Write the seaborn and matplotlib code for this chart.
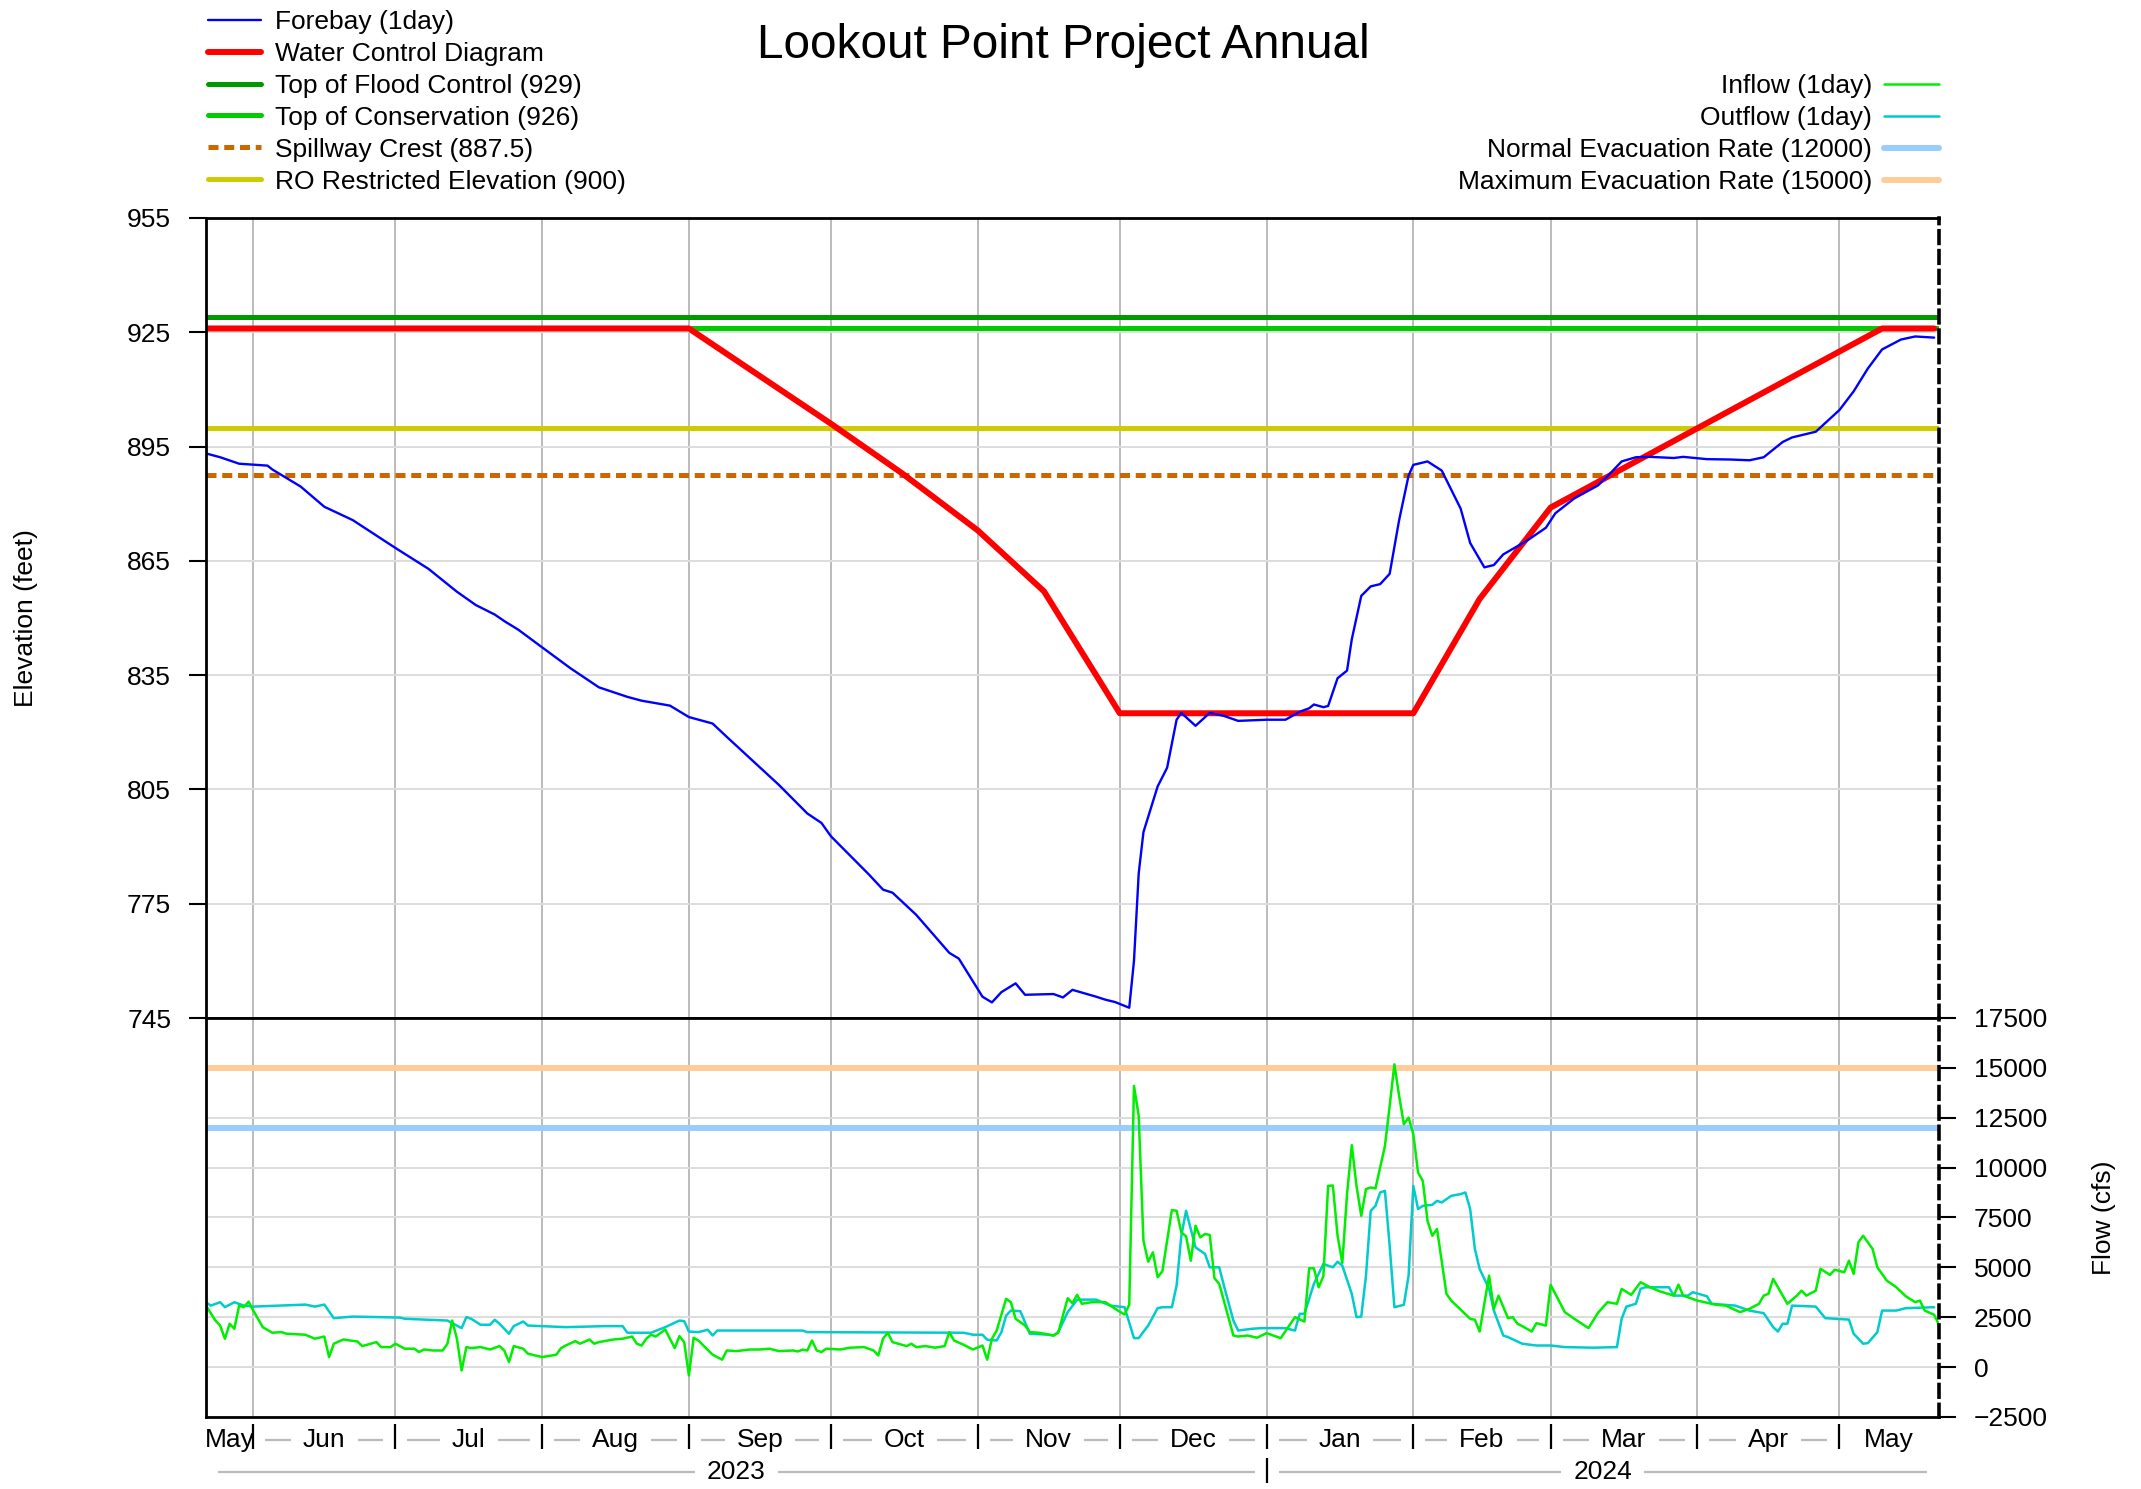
import pandas as pd
import matplotlib
matplotlib.use('Agg')
import matplotlib.pyplot as plt
import seaborn as sns

# period shown
START = pd.Timestamp('2023-05-22')
END = pd.Timestamp('2024-05-22')

# forebay elevation (ft); day = days after START
forebay_day = [0, 3, 7, 13, 14, 20, 25, 31, 40, 47, 53, 57, 61, 63, 66, 71, 77, 83, 89, 92,
               98, 102, 107, 110, 121, 127, 130, 132, 140, 143, 145, 150, 157, 159, 161, 164, 166, 168, 171, 173,
               179, 181, 183, 188, 190, 192, 195, 196, 197, 198, 201, 203, 205, 206, 209, 212, 215, 218, 224, 228,
               231, 233, 234, 236, 237, 239, 241, 242, 244, 246, 248, 250, 252, 254, 255, 258, 261, 265, 267, 270,
               272, 274, 279, 283, 285, 289, 294, 296, 299, 302, 305, 310, 312, 317, 322, 326, 329, 333, 335, 340,
               345, 348, 351, 354, 358, 361, 365]
forebay_ft = [893.2, 892.2, 890.5, 890.0, 889.0, 884.5, 879.2, 875.7, 868.4, 862.9, 856.9, 853.4, 850.9, 849.2, 846.9, 842.3, 836.8, 831.8, 829.3, 828.3,
              827.0, 824.0, 822.3, 818.8, 806.2, 798.7, 796.2, 792.7, 782.7, 778.7, 777.9, 772.1, 762.1, 760.6, 756.6, 750.6, 749.1, 751.8, 754.1, 751.1,
              751.3, 750.4, 752.4, 750.6, 749.8, 749.2, 747.7, 760.0, 783.0, 793.8, 805.8, 810.7, 823.3, 825.1, 821.7, 825.1, 824.3, 823.0, 823.3, 823.3,
              825.4, 826.3, 827.3, 826.6, 826.9, 834.2, 836.2, 844.4, 855.8, 858.3, 858.9, 861.6, 875.7, 887.4, 890.2, 891.1, 888.7, 878.7, 869.7, 863.3,
              863.9, 866.7, 870.3, 873.7, 877.5, 881.4, 884.8, 887.2, 891.1, 892.2, 892.3, 892.0, 892.3, 891.7, 891.6, 891.4, 892.2, 896.2, 897.4, 898.9,
              904.6, 909.5, 915.5, 920.5, 923.1, 923.9, 923.6]

# water control diagram (rule curve)
rule_dates = ['2023-05-22', '2023-09-01', '2023-10-01', '2023-10-16', '2023-11-01', '2023-11-15', '2023-12-01',
              '2024-02-01', '2024-02-15', '2024-03-01', '2024-05-10', '2024-05-21']
rule_ft = [926, 926, 901, 888, 873, 857, 825, 825, 855, 879, 926, 926]

# reference elevations (ft)
top_flood_control = 929
top_conservation = 926
spillway_crest = 887.5
ro_restricted = 900

# inflow (cfs)
inflow_day = [0, 2, 3, 4, 5, 6, 7, 8, 9, 10, 12, 14, 16, 17, 21, 23, 25, 26, 27, 29,
              32, 33, 36, 37, 39, 40, 42, 44, 45, 46, 48, 50, 51, 52, 53, 54, 55, 56, 58, 60,
              62, 63, 64, 65, 67, 68, 71, 74, 75, 76, 78, 79, 81, 82, 83, 86, 88, 90, 91, 92,
              93, 94, 95, 97, 99, 100, 101, 102, 103, 104, 107, 109, 110, 112, 115, 117, 119, 121, 124, 125,
              126, 127, 128, 129, 130, 131, 134, 136, 139, 141, 142, 143, 144, 145, 148, 149, 150, 152, 154, 156,
              157, 158, 160, 162, 164, 165, 166, 167, 169, 170, 171, 173, 174, 176, 179, 180, 182, 183, 184, 185,
              187, 190, 192, 194, 195, 196, 197, 198, 199, 200, 201, 202, 204, 205, 206, 207, 208, 209, 210, 211,
              212, 213, 214, 217, 218, 220, 222, 224, 227, 230, 232, 233, 234, 235, 236, 237, 238, 239, 240, 241,
              242, 243, 244, 245, 246, 247, 249, 250, 251, 252, 253, 254, 255, 256, 257, 258, 259, 260, 262, 263,
              267, 268, 269, 271, 272, 273, 275, 276, 277, 278, 280, 281, 283, 284, 287, 289, 292, 294, 296, 298,
              299, 301, 303, 305, 307, 310, 311, 312, 315, 319, 321, 324, 326, 328, 329, 330, 331, 334, 336, 337,
              338, 340, 341, 343, 344, 346, 347, 348, 349, 350, 352, 353, 355, 357, 359, 361, 362, 363, 365, 366]
inflow_cfs = [3080, 2330, 2080, 1420, 2170, 1920, 3080, 3000, 3280, 2830, 2000, 1720, 1750, 1670, 1620, 1420, 1530, 500, 1170, 1380,
              1280, 1050, 1250, 1000, 1000, 1170, 920, 920, 750, 880, 830, 830, 1170, 2330, 1420, -170, 1000, 950, 1000, 880,
              1050, 830, 250, 1050, 920, 670, 500, 620, 950, 1080, 1300, 1170, 1380, 1170, 1250, 1380, 1420, 1530, 1170, 1080,
              1420, 1620, 1530, 1880, 950, 1550, 1250, -420, 1470, 1330, 620, 370, 830, 800, 880, 880, 920, 800, 830, 780,
              870, 830, 1330, 830, 750, 920, 880, 970, 1000, 830, 580, 1420, 1720, 1250, 1050, 1170, 1000, 1050, 970, 1050,
              1750, 1330, 1120, 880, 1080, 370, 1420, 1830, 3420, 3250, 2420, 2080, 1750, 1720, 1580, 1720, 3450, 3200, 3620, 3170,
              3250, 3250, 2920, 2630, 3120, 14090, 12590, 6330, 5280, 5750, 4500, 4800, 7870, 7830, 6750, 6550, 5330, 7080, 6500, 6670,
              6620, 4450, 4170, 1580, 1530, 1580, 1470, 1700, 1450, 2500, 2280, 4950, 4950, 4000, 4550, 9080, 9100, 6580, 5220, 8670,
              11120, 9080, 7580, 8920, 9000, 8950, 11080, 13080, 15170, 13590, 12170, 12500, 11670, 9750, 9330, 7330, 6580, 6920, 3670, 3330,
              2420, 2370, 1780, 4580, 2920, 3580, 2450, 2500, 2170, 2050, 1780, 2200, 2080, 4120, 2750, 2420, 1950, 2720, 3250, 3170,
              3920, 3620, 4250, 4000, 3800, 3580, 4130, 3580, 3330, 3120, 3080, 2750, 2920, 3170, 3580, 3670, 4420, 3170, 3580, 3830,
              3580, 3830, 4920, 4620, 4880, 4750, 5330, 4670, 6250, 6580, 5920, 5000, 4330, 4000, 3550, 3250, 3330, 2830, 2620, 2120]

# outflow (cfs)
outflow_day = [0, 1, 3, 4, 6, 8, 10, 21, 23, 25, 27, 31, 41, 42, 51, 54, 55, 56, 58, 60,
               61, 62, 64, 65, 67, 68, 76, 84, 88, 89, 94, 97, 100, 101, 102, 104, 106, 107, 108, 117,
               126, 127, 160, 162, 164, 165, 167, 168, 169, 170, 172, 174, 178, 179, 180, 182, 184, 188, 191, 194,
               196, 197, 199, 201, 202, 204, 205, 206, 207, 208, 209, 211, 212, 214, 215, 217, 218, 221, 223, 228,
               230, 231, 232, 234, 236, 237, 238, 239, 240, 242, 243, 244, 245, 246, 247, 248, 249, 250, 251, 253,
               254, 255, 256, 257, 259, 260, 261, 263, 265, 266, 267, 268, 269, 271, 272, 274, 275, 278, 281, 284,
               287, 293, 298, 299, 300, 302, 303, 304, 309, 310, 313, 314, 317, 318, 323, 326, 329, 331, 332, 333,
               334, 335, 340, 342, 347, 348, 350, 351, 353, 354, 357, 359, 365]
outflow_cfs = [3250, 3080, 3250, 3000, 3250, 3080, 3030, 3130, 3030, 3130, 2450, 2530, 2480, 2420, 2330, 1950, 2500, 2420, 2120, 2120,
               2370, 2170, 1670, 2050, 2280, 2080, 2000, 2050, 2050, 1720, 1720, 2000, 2330, 2300, 1780, 1750, 1870, 1580, 1830, 1830,
               1830, 1750, 1720, 1620, 1620, 1370, 1330, 1750, 2580, 2830, 2800, 1670, 1620, 1580, 1750, 2750, 3380, 3380, 3080, 3000,
               1450, 1450, 2080, 2950, 3000, 3000, 4080, 6580, 7830, 6920, 6000, 5670, 5000, 5000, 4080, 2330, 1830, 1920, 1950, 1950,
               1830, 2670, 2670, 4170, 5170, 5080, 5000, 5280, 5080, 3670, 2500, 2530, 4580, 7830, 8080, 8750, 8830, 6080, 3000, 3120,
               4580, 9080, 7920, 8080, 8130, 8330, 8250, 8580, 8670, 8750, 7920, 5920, 4920, 3920, 2830, 1580, 1500, 1170, 1080, 1080,
               1000, 970, 1000, 2420, 3030, 3170, 3920, 4000, 4000, 3580, 3580, 3750, 3550, 3170, 3080, 2830, 2700, 2000, 1780, 2170,
               2170, 3080, 3030, 2450, 2380, 1670, 1170, 1200, 1750, 2830, 2830, 2950, 3000]

# evacuation rates (cfs)
normal_evacuation = 12000
maximum_evacuation = 15000

elev_ticks = list(range(745, 956, 30))
flow_ticks = list(range(-2500, 17501, 2500))


def to_frame(days, values):
    return pd.DataFrame({'date': START + pd.to_timedelta(days, unit='D'), 'value': values})


sns.set_style('white')
plt.rcParams['font.family'] = ['Liberation Sans', 'DejaVu Sans']
plt.rcParams['text.color'] = 'black'
plt.rcParams['axes.labelcolor'] = 'black'

fig = plt.figure(figsize=(21.41, 14.89), dpi=100)
ax_el = fig.add_axes([0.0962, 0.3163, 0.8094, 0.5373])
ax_fl = fig.add_axes([0.0962, 0.0484, 0.8094, 0.2680], sharex=ax_el)

# ---- elevation panel
h_flood = ax_el.axhline(top_flood_control, color='#009a00', lw=3.6)
h_cons = ax_el.axhline(top_conservation, color='#00cc00', lw=3.6)
h_spill = ax_el.axhline(spillway_crest, color='#cc6600', lw=3.6, dashes=(2.0, 1.15))
h_ro = ax_el.axhline(ro_restricted, color='#cccc00', lw=3.6)

rule = pd.DataFrame({'date': pd.to_datetime(rule_dates), 'value': rule_ft})
sns.lineplot(data=rule, x='date', y='value', ax=ax_el, color='#ff0000', lw=4.3, legend=False)
h_rule = ax_el.lines[-1]
sns.lineplot(data=to_frame(forebay_day, forebay_ft), x='date', y='value', ax=ax_el,
             color='#0000ff', lw=1.7, legend=False)
h_fore = ax_el.lines[-1]

# ---- flow panel
h_max = ax_fl.axhline(maximum_evacuation, color='#ffcc99', lw=4.3)
h_norm = ax_fl.axhline(normal_evacuation, color='#99ccff', lw=4.3)
sns.lineplot(data=to_frame(outflow_day, outflow_cfs), x='date', y='value', ax=ax_fl,
             color='#00cccc', lw=1.8, legend=False)
h_out = ax_fl.lines[-1]
sns.lineplot(data=to_frame(inflow_day, inflow_cfs), x='date', y='value', ax=ax_fl,
             color='#00ee00', lw=1.8, legend=False)
h_in = ax_fl.lines[-1]

month_starts = pd.date_range('2023-06-01', '2024-05-01', freq='MS')

for ax in (ax_el, ax_fl):
    ax.set_xlim(START, END)
    ax.set_xticks(month_starts)
    ax.set_axisbelow(True)
    ax.grid(axis='x', color='#bbbbbb', lw=1.4)
    ax.grid(axis='y', color='#dddddd', lw=1.4)
    ax.tick_params(axis='x', length=0, labelbottom=False)
    ax.set_xlabel('')
    for side in ('left', 'top', 'bottom'):
        ax.spines[side].set_color('black')
        ax.spines[side].set_linewidth(2.0)
    ax.spines['right'].set_color('black')
    ax.spines['right'].set_linewidth(2.6)
    ax.spines['right'].set_linestyle((0, (3.5, 2)))

ax_el.set_ylim(745, 955)
ax_el.set_yticks(elev_ticks)
ax_el.tick_params(axis='y', direction='out', length=12, width=1.5, pad=13, labelsize=19,
                  left=True, right=False, colors='black')
ax_el.set_ylabel('Elevation (feet)', fontsize=19)
ax_el.yaxis.set_label_coords(-0.097, 0.5)

ax_fl.set_ylim(-2500, 17500)
ax_fl.set_yticks(flow_ticks)
ax_fl.yaxis.tick_right()
ax_fl.tick_params(axis='y', direction='out', length=12, width=1.5, pad=13, labelsize=19,
                  left=False, right=True, colors='black')
ax_fl.yaxis.set_label_position('right')
ax_fl.set_ylabel('Flow (cfs)', fontsize=19)
ax_fl.yaxis.set_label_coords(1.0883, 0.5)

# ---- month / year labels under the flow panel
xt = ax_fl.get_xaxis_transform()
edges = [START] + list(month_starts) + [END]
month_texts = []
for a, b in zip(edges[:-1], edges[1:]):
    t = ax_fl.text(a + (b - a) / 2, -0.058, a.strftime('%b'), transform=xt,
                   ha='center', va='center', fontsize=19)
    month_texts.append((a, b, t))
ax_fl.vlines(month_starts, -0.0175, -0.080, transform=xt, colors='black', lw=1.6, clip_on=False)

years = [(START, pd.Timestamp('2024-01-01'), '2023'), (pd.Timestamp('2024-01-01'), END, '2024')]
year_texts = []
for a, b, label in years:
    t = ax_fl.text(a + (b - a) / 2, -0.138, label, transform=xt,
                   ha='center', va='center', fontsize=19)
    year_texts.append((a, b, t))
ax_fl.vlines([pd.Timestamp('2024-01-01')], -0.103, -0.165, transform=xt, colors='black',
             lw=1.6, clip_on=False)

fig.canvas.draw()
renderer = fig.canvas.get_renderer()
inv = ax_fl.transData.inverted()


def px(d):
    return ax_fl.transData.transform((matplotlib.dates.date2num(d), 0))[0]


def gray_dash(x0, x1, yfrac):
    if x1 - x0 < 3:
        return
    d0 = inv.transform((x0, 0))[0]
    d1 = inv.transform((x1, 0))[0]
    ax_fl.plot([d0, d1], [yfrac, yfrac], transform=xt, color='#bbbbbb', lw=1.6,
               clip_on=False, solid_capstyle='butt')


gap = 12
for a, b, t in month_texts:
    bb = t.get_window_extent(renderer)
    gray_dash(px(a) + gap, bb.x0 - gap, -0.058)
    gray_dash(bb.x1 + gap, px(b) - gap, -0.058)
for a, b, t in year_texts:
    bb = t.get_window_extent(renderer)
    gray_dash(px(a) + gap, bb.x0 - gap, -0.138)
    gray_dash(bb.x1 + gap, px(b) - gap, -0.138)
ax_fl.set_xlim(START, END)

# ---- title and legends
fig.text(0.4965, 0.9697, 'Lookout Point Project Annual', ha='center', va='center', fontsize=34.4)

fig.legend([h_fore, h_rule, h_flood, h_cons, h_spill, h_ro],
           ['Forebay (1day)', 'Water Control Diagram', 'Top of Flood Control (929)',
            'Top of Conservation (926)', 'Spillway Crest (887.5)', 'RO Restricted Elevation (900)'],
           loc='upper left', bbox_to_anchor=(0.0971, 0.9933), frameon=False, fontsize=19,
           handlelength=2.0, handletextpad=0.55, labelspacing=0.30, borderpad=0, borderaxespad=0)
fig.legend([h_in, h_out, h_norm, h_max],
           ['Inflow (1day)', 'Outflow (1day)', 'Normal Evacuation Rate (12000)',
            'Maximum Evacuation Rate (15000)'],
           loc='upper right', bbox_to_anchor=(0.9057, 0.9503), frameon=False, fontsize=19,
           handlelength=2.1, handletextpad=0.45, labelspacing=0.30, borderpad=0, borderaxespad=0,
           markerfirst=False)

fig.savefig('out.png', dpi=100)
